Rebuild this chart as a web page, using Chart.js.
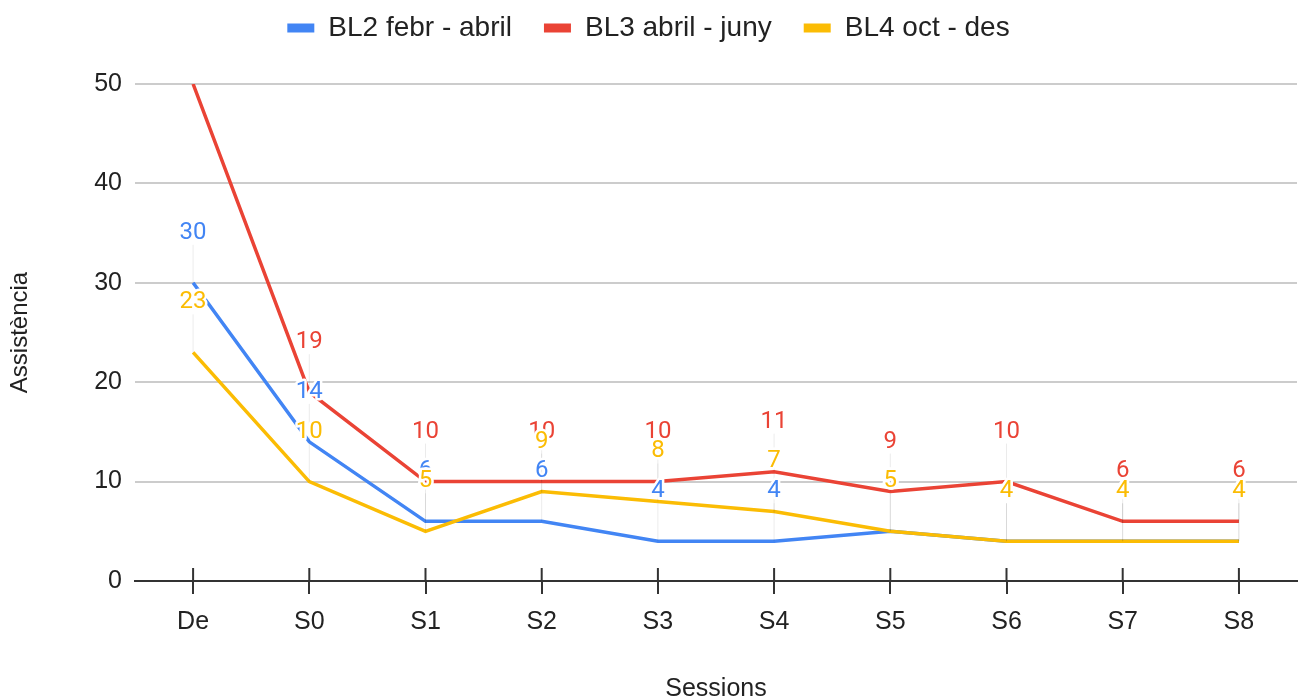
<!DOCTYPE html>
<html>
<head>
<meta charset="utf-8">
<script src="https://cdn.jsdelivr.net/npm/chart.js@4.4.1/dist/chart.umd.min.js"></script>
<style>
    html, body { margin: 0; padding: 0; background: #fff; }
    #wrap { width: 1303px; height: 699px; position: relative; }
</style>
</head>
<body>
<div id="wrap"><canvas id="myChart"></canvas></div>
<script>
// Données
const sessions = ['De', 'S0', 'S1', 'S2', 'S3', 'S4', 'S5', 'S6', 'S7', 'S8'];
const bl2 = [30, 14, 6, 6, 4, 4, 5, 4, 4, 4];
const bl3 = [50, 19, 10, 10, 10, 11, 9, 10, 6, 6];
const bl4 = [23, 10, 5, 9, 8, 7, 5, 4, 4, 4];
const yTicks = [0, 10, 20, 30, 40, 50];

const blue = '#4285f4';
const red = '#ea4335';
const yellow = '#fbbc04';
const font = 'Liberation Sans, Arial, sans-serif';

// espace sous la légende
const legendGap = {
    id: 'legendGap',
    beforeInit(chart) {
        const fit = chart.legend.fit;
        chart.legend.fit = function () {
            fit.bind(chart.legend)();
            this.height += 32;
        };
    }
};

// petits traits verticaux de l'axe X qui traversent la ligne
const xTicksUp = {
    id: 'xTicksUp',
    beforeDatasetsDraw(chart) {
        const ctx = chart.ctx;
        const x = chart.scales.x;
        const y0 = chart.scales.y.getPixelForValue(0);
        ctx.save();
        ctx.strokeStyle = '#333';
        ctx.lineWidth = 2;
        sessions.forEach((s, i) => {
            const px = x.getPixelForValue(i);
            ctx.beginPath();
            ctx.moveTo(px, y0 - 13);
            ctx.lineTo(px, y0);
            ctx.stroke();
        });
        ctx.restore();
    }
};

// étiquettes de valeurs au-dessus des points
const valueLabels = {
    id: 'valueLabels',
    afterDatasetsDraw(chart) {
        const ctx = chart.ctx;
        const top = chart.chartArea.top;
        const drawOrder = [1, 0, 2]; // rouge, bleu, jaune (jaune au-dessus)
        ctx.save();
        // traits de rappel
        ctx.strokeStyle = 'rgba(0, 0, 0, 0.08)';
        ctx.lineWidth = 1;
        drawOrder.forEach(di => {
            const meta = chart.getDatasetMeta(di);
            meta.data.forEach(pt => {
                const ly = pt.y - 50;
                if (ly < top) return;
                ctx.beginPath();
                ctx.moveTo(pt.x, ly + 12);
                ctx.lineTo(pt.x, pt.y);
                ctx.stroke();
            });
        });
        ctx.font = '24px Roboto, sans-serif';
        ctx.textAlign = 'center';
        ctx.textBaseline = 'middle';
        ctx.lineJoin = 'round';
        drawOrder.forEach(di => {
            const ds = chart.data.datasets[di];
            const meta = chart.getDatasetMeta(di);
            meta.data.forEach((pt, i) => {
                const ly = pt.y - 50;
                if (ly < top) return;
                ctx.strokeStyle = '#fff';
                ctx.lineWidth = 5;
                ctx.strokeText(ds.data[i], pt.x, ly);
                ctx.fillStyle = ds.borderColor;
                ctx.fillText(ds.data[i], pt.x, ly);
            });
        });
        ctx.restore();
    }
};

const config = {
    type: 'line',
    data: {
        labels: sessions,
        datasets: [{
            label: 'BL2 febr - abril',
            data: bl2,
            borderColor: blue,
            backgroundColor: blue,
            borderWidth: 3.5,
            pointRadius: 0,
            tension: 0,
            order: 2
        }, {
            label: 'BL3 abril - juny',
            data: bl3,
            borderColor: red,
            backgroundColor: red,
            borderWidth: 3.5,
            pointRadius: 0,
            tension: 0,
            order: 1
        }, {
            label: 'BL4 oct - des',
            data: bl4,
            borderColor: yellow,
            backgroundColor: yellow,
            borderWidth: 3.5,
            pointRadius: 0,
            tension: 0,
            order: 0
        }]
    },
    options: {
        responsive: true,
        maintainAspectRatio: false,
        animation: false,
        layout: {
            padding: { top: -18, right: 6, bottom: 0, left: 0 }
        },
        scales: {
            x: {
                offset: true,
                grid: {
                    offset: false,
                    drawOnChartArea: false,
                    drawTicks: true,
                    tickLength: 13,
                    color: '#333',
                    lineWidth: 2
                },
                border: { display: true, color: '#333', width: 2 },
                ticks: {
                    color: '#222',
                    padding: 13,
                    font: { family: font, size: 25 }
                },
                title: {
                    display: true,
                    text: 'Sessions',
                    color: '#222',
                    font: { family: font, size: 25, lineHeight: 0.8 },
                    padding: { top: 0, bottom: 0 }
                },
                afterFit(scale) {
                    scale.height = 118;
                }
            },
            y: {
                min: yTicks[0],
                max: yTicks[yTicks.length - 1],
                ticks: {
                    stepSize: 10,
                    color: '#222',
                    padding: 13,
                    font: { family: font, size: 25 }
                },
                grid: {
                    drawTicks: false,
                    color: (c) => c.tick && c.tick.value === 0 ? 'rgba(0,0,0,0)' : '#cccccc',
                    lineWidth: 2
                },
                border: { display: false },
                title: {
                    display: true,
                    text: 'Assistència',
                    color: '#222',
                    font: { family: font, size: 24, lineHeight: 1 },
                    padding: { top: 8, bottom: 0 }
                },
                afterFit(scale) {
                    scale.width = 135;
                }
            }
        },
        plugins: {
            legend: {
                position: 'top',
                labels: {
                    color: '#222',
                    font: { family: font, size: 28 },
                    boxWidth: 27,
                    boxHeight: 9,
                    padding: 32,
                    sort: (a, b) => a.datasetIndex - b.datasetIndex,
                    generateLabels(chart) {
                        return chart.data.datasets.map((ds, i) => ({
                            text: ds.label,
                            fillStyle: ds.borderColor,
                            strokeStyle: ds.borderColor,
                            lineWidth: 0,
                            fontColor: '#222',
                            hidden: false,
                            datasetIndex: i
                        }));
                    }
                }
            },
            tooltip: { enabled: false }
        }
    },
    plugins: [legendGap, xTicksUp, valueLabels]
};

let myChart = new Chart(document.getElementById('myChart'), config);
</script>
</body>
</html>
